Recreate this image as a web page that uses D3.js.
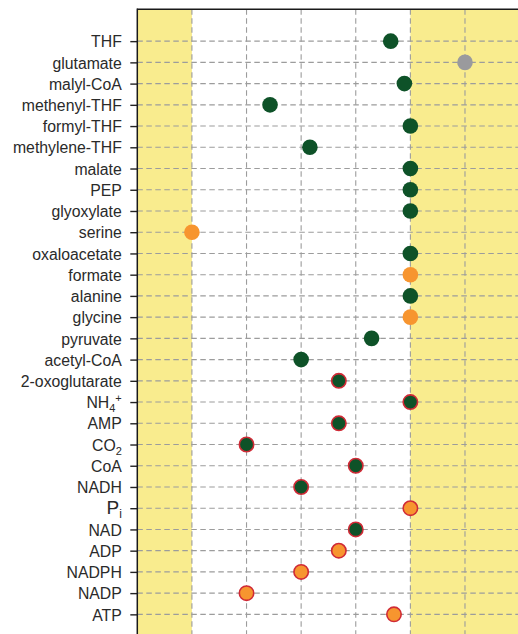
<!DOCTYPE html>
<html>
<head>
<meta charset="utf-8">
<script src="https://cdn.jsdelivr.net/npm/d3@7"></script>
<style>
  html, body { margin: 0; padding: 0; background: #fff; overflow: hidden; }
  svg { display: block; }
  text { font-family: "Liberation Sans", Arial, Helvetica, sans-serif; }
</style>
</head>
<body>
<svg id="chart" width="518" height="634"></svg>
<script>
// Metabolites, top to bottom
const categories = [
  "THF", "glutamate", "malyl-CoA", "methenyl-THF", "formyl-THF", "methylene-THF",
  "malate", "PEP", "glyoxylate", "serine", "oxaloacetate", "formate", "alanine",
  "glycine", "pyruvate", "acetyl-CoA", "2-oxoglutarate", "NH4+", "AMP", "CO2",
  "CoA", "NADH", "Pi", "NAD", "ADP", "NADPH", "NADP", "ATP"
];

// log10 concentration [M]
const logConc = [
  -2.36, -1.0, -2.11, -4.57, -2.0, -3.84,
  -2.0, -2.0, -2.0, -6.0, -2.0, -2.0, -2.0,
  -2.0, -2.71, -4.0, -3.31, -2.0, -3.31, -5.0,
  -3.0, -4.0, -2.0, -3.0, -3.31, -4.0, -5.0, -2.30
];

// g = optimised, o = fixed, x = excluded
const status = [
  "g", "x", "g", "g", "g", "g",
  "g", "g", "g", "o", "g", "o", "g",
  "o", "g", "g", "g", "g", "g", "g",
  "g", "g", "o", "g", "o", "o", "o", "o"
];

// cofactors get a red ring
const cofactor = [
  false, false, false, false, false, false,
  false, false, false, false, false, false, false,
  false, false, false, true, true, true, true,
  true, true, true, true, true, true, true, true
];

const xTicks = [-7, -6, -5, -4, -3, -2, -1, 0];
const bounds = [[-7, -6], [-2, 0]];

const fillFor = { g: "#0e5228", o: "#f7952f", x: "#9a9a9d" };

const svg = d3.select("#chart");
const plotLeft = 137.3, plotTop = 9.3, plotRight = 519.6;
const step = 21.23;
const firstRow = plotTop + 1.5 * step;
const lastRow = firstRow + (categories.length - 1) * step;
const plotBottom = lastRow + 1.5 * step;

const x = d3.scaleLinear().domain([-7, 0]).range([plotLeft, plotRight]);
const y = d3.scalePoint().domain(categories).range([firstRow, lastRow]);

// out-of-range bands
svg.append("g").selectAll("rect").data(bounds).join("rect")
  .attr("x", d => x(d[0])).attr("y", plotTop)
  .attr("width", d => x(d[1]) - x(d[0])).attr("height", plotBottom - plotTop)
  .attr("fill", "#f9ec8e");

// grid
const grid = svg.append("g")
  .attr("stroke", "#9c9c9c").attr("stroke-width", 1.1)
  .attr("stroke-dasharray", "5.5,3.5").attr("fill", "none");
grid.selectAll("line.v").data(xTicks.slice(1, -1)).join("line").attr("class", "v")
  .attr("x1", d => x(d)).attr("x2", d => x(d))
  .attr("y1", plotTop).attr("y2", plotBottom);
grid.selectAll("line.h").data(categories).join("line").attr("class", "h")
  .attr("x1", plotLeft).attr("x2", plotRight)
  .attr("y1", d => y(d)).attr("y2", d => y(d));

// points
const rows = categories.map((c, i) => ({ c, v: logConc[i], s: status[i], ring: cofactor[i] }));
svg.append("g").selectAll("circle").data(rows).join("circle")
  .attr("cx", d => x(d.v)).attr("cy", d => y(d.c))
  .attr("r", d => d.ring ? 7.2 : 7.8)
  .attr("fill", d => fillFor[d.s])
  .attr("stroke", d => d.ring ? "#d02a36" : "none")
  .attr("stroke-width", 1.6);

// y axis with formatted chemical names
const yAxis = d3.axisLeft(y).tickSize(7).tickPadding(8).tickFormat("");
const ax = svg.append("g").attr("transform", `translate(${plotLeft},0)`).call(yAxis);
ax.select(".domain").remove();
ax.selectAll(".tick line").attr("stroke", "#222").attr("stroke-width", 1.4);

const label = ax.selectAll(".tick").append("text")
  .attr("x", -15.5).attr("dy", "0.36em")
  .attr("text-anchor", "end")
  .attr("fill", "#2a2a2a")
  .style("font-size", "15.8px");

label.each(function(d) {
  const t = d3.select(this);
  if (d === "NH4+") {
    t.append("tspan").text("NH");
    t.append("tspan").attr("dy", 4).style("font-size", "11px").text("4");
    t.append("tspan").attr("dy", -10).style("font-size", "11px").text("+");
  } else if (d === "CO2") {
    t.append("tspan").text("CO");
    t.append("tspan").attr("dy", 4).style("font-size", "11px").text("2");
  } else if (d === "Pi") {
    t.append("tspan").style("font-size", "19px").text("P");
    t.append("tspan").attr("dy", 3.5).style("font-size", "12px").text("i");
  } else {
    t.text(d);
  }
});

// spines
svg.append("line").attr("x1", plotLeft).attr("x2", plotLeft).attr("y1", plotTop - 0.7).attr("y2", plotBottom)
  .attr("stroke", "#1a1a1a").attr("stroke-width", 1.5);
svg.append("line").attr("x1", plotLeft).attr("x2", plotRight + 2).attr("y1", plotTop).attr("y2", plotTop)
  .attr("stroke", "#1a1a1a").attr("stroke-width", 1.5);
</script>
</body>
</html>
